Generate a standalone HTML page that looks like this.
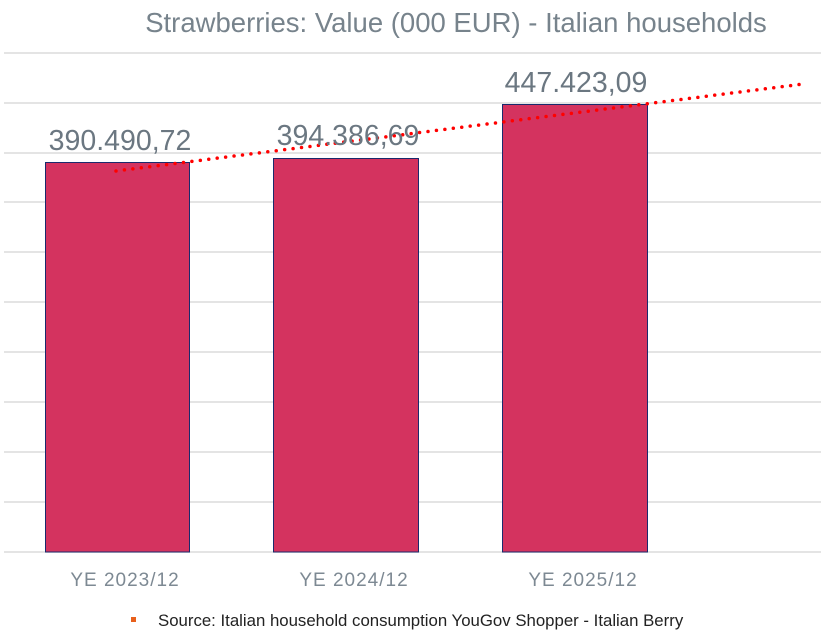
<!DOCTYPE html>
<html><head><style>
body{margin:0;background:#fff;}
svg{display:block;font-family:"Liberation Sans",sans-serif;}
</style></head><body>
<svg width="821" height="633" viewBox="0 0 821 633">
<text x="456" y="32" text-anchor="middle" font-size="27.5" fill="#77838c">Strawberries: Value (000 EUR) - Italian households</text>
<g stroke="#dcdcdc" stroke-width="1.5">
<line x1="4" x2="821" y1="53" y2="53"/><line x1="4" x2="821" y1="103" y2="103"/>
<line x1="4" x2="821" y1="153" y2="153"/><line x1="4" x2="821" y1="202" y2="202"/>
<line x1="4" x2="821" y1="252" y2="252"/><line x1="4" x2="821" y1="302" y2="302"/>
<line x1="4" x2="821" y1="352" y2="352"/><line x1="4" x2="821" y1="402" y2="402"/>
<line x1="4" x2="821" y1="452" y2="452"/><line x1="4" x2="821" y1="502" y2="502"/>
<line x1="4" x2="821" y1="552" y2="552"/>
</g>
<g fill="#d4335f" stroke="#1a2a6c" stroke-width="1">
<rect x="45.5" y="162.5" width="144" height="389.5"/>
<rect x="273.5" y="158.5" width="145" height="393.5"/>
<rect x="502.5" y="104.5" width="145" height="447.5"/>
</g>
<line x1="116" y1="171" x2="803" y2="84" stroke="#ff0000" stroke-width="3.5" stroke-dasharray="0 8.5" stroke-linecap="round"/>
<g font-size="28.5" fill="#6b7781" text-anchor="middle">
<text x="120" y="150">390.490,72</text>
<text x="348" y="145">394.386,69</text>
<text x="576" y="92">447.423,09</text>
</g>
<g font-size="19" fill="#7d8993" text-anchor="middle" letter-spacing="1">
<text x="125" y="586">YE 2023/12</text>
<text x="354" y="586">YE 2024/12</text>
<text x="583" y="586">YE 2025/12</text>
</g>
<rect x="131" y="617" width="5" height="5" fill="#e8601c"/>
<text x="158" y="626" font-size="16.8" fill="#222">Source: Italian household consumption YouGov Shopper - Italian Berry</text>
</svg>
</body></html>
